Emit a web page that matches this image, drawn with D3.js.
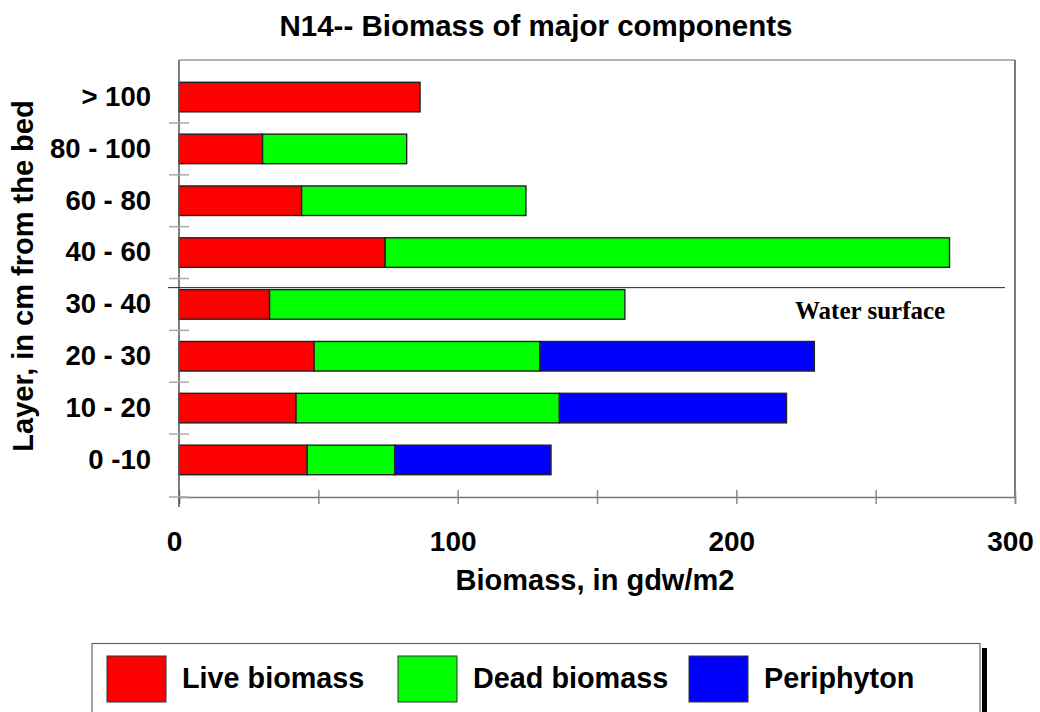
<!DOCTYPE html>
<html>
<head>
<meta charset="utf-8">
<script src="https://cdn.jsdelivr.net/npm/d3@7"></script>
<style>
  body { margin: 0; background: #fff; }
  text { font-family: "Liberation Sans", Arial, sans-serif; font-weight: bold; }
</style>
</head>
<body>
<svg id="chart" width="1040" height="712"></svg>
<script>
// layers, top to bottom
var layers = ["> 100", "80 - 100", "60 - 80", "40 - 60", "30 - 40", "20 - 30", "10 - 20", "0 -10"];
var live = [86.5, 30, 44, 74, 32.5, 48.5, 42, 46];
var dead = [0, 51.7, 80.5, 202.5, 127.5, 81, 94.5, 31.5];
var periphyton = [0, 0, 0, 0, 0, 98.5, 81.5, 56];
var seriesNames = ["Live biomass", "Dead biomass", "Periphyton"];
var seriesColors = ["#ff0000", "#00ff00", "#0000ff"];
var xTicks = [0, 50, 100, 150, 200, 250, 300];

var margin = {top: 60, left: 179, right: 25, bottom: 215};
var width = 1040 - margin.left - margin.right;   // 836
var height = 712 - margin.top - margin.bottom;   // 437

var svg = d3.select("#chart");

var rows = layers.map(function(l, i) {
    return {layer: l, live: live[i], dead: dead[i], periphyton: periphyton[i]};
});
var stack = d3.stack().keys(["live", "dead", "periphyton"]);
var stacked = stack(rows);

var x = d3.scaleLinear().domain([0, 300]).range([0, width]);
var y = d3.scaleBand().domain(layers).range([0, height]).padding(0.43);

var g = svg.append("g").attr("transform", `translate(${margin.left}, ${margin.top})`);

// frame: top and right
g.append("line").attr("x1", 0).attr("x2", width).attr("y1", 0).attr("y2", 0)
    .attr("stroke", "#999").attr("stroke-width", 1.5);
g.append("line").attr("x1", width).attr("x2", width).attr("y1", 0).attr("y2", height)
    .attr("stroke", "#222").attr("stroke-width", 1.2);

// bars
g.selectAll(".series")
    .data(stacked)
    .enter().append("g")
    .attr("fill", function(d, i) { return seriesColors[i]; })
    .selectAll("rect")
    .data(function(d) { return d; })
    .enter().append("rect")
    .attr("x", function(d) { return x(d[0]); })
    .attr("y", function(d) { return y(d.data.layer); })
    .attr("width", function(d) { return x(d[1]) - x(d[0]); })
    .attr("height", y.bandwidth())
    .attr("stroke", "#222")
    .attr("stroke-width", 1.4);

// x axis
var xAxis = d3.axisBottom(x)
    .tickValues(xTicks)
    .tickSize(7)
    .tickPadding(33)
    .tickFormat(function(d) { return d % 100 === 0 ? d : ""; });
var xg = g.append("g").attr("transform", `translate(0, ${height})`).call(xAxis);
xg.select(".domain").attr("stroke", "#777").attr("stroke-width", 1.5);
xg.selectAll(".tick line").attr("y1", -7).attr("stroke", "#888").attr("stroke-width", 1.5);
xg.selectAll(".tick text").attr("font-size", 28).attr("font-family", "Liberation Sans, Arial, sans-serif")
    .attr("font-weight", "bold").attr("fill", "#000").attr("dx", -5).attr("dy", 0).attr("y", 54);

// y axis
var yAxis = d3.axisLeft(y).tickSize(0).tickPadding(28);
var yg = g.append("g").call(yAxis);
yg.select(".domain").remove();
yg.selectAll(".tick text").attr("font-size", 27.5).attr("font-family", "Liberation Sans, Arial, sans-serif")
    .attr("font-weight", "bold").attr("fill", "#000");

g.append("line").attr("x1", 0).attr("x2", 0).attr("y1", 0).attr("y2", height + 10)
    .attr("stroke", "#555").attr("stroke-width", 1.5);

// boundary ticks between layers
var gap = (y.step() - y.bandwidth()) / 2;
var boundaries = layers.map(function(l) { return y(l) - gap; }).concat([height]);
g.selectAll(".ytick")
    .data(boundaries.slice(1))
    .enter().append("line")
    .attr("x1", -10).attr("x2", 10)
    .attr("y1", function(d) { return d; }).attr("y2", function(d) { return d; })
    .attr("stroke", "#aaa").attr("stroke-width", 1.5);

// water surface line, between 40-60 and 30-40
var waterY = y("30 - 40") - 2;
g.append("line").attr("x1", -11).attr("x2", width - 10)
    .attr("y1", waterY).attr("y2", waterY)
    .attr("stroke", "#222").attr("stroke-width", 1);
g.append("text")
    .attr("x", x(248)).attr("y", waterY + 31)
    .attr("text-anchor", "middle")
    .style("font-family", "'Liberation Serif', 'Times New Roman', serif")
    .attr("font-size", 25)
    .text("Water surface");

// titles
svg.append("text").attr("x", 536).attr("y", 36).attr("text-anchor", "middle")
    .attr("font-size", 29.5).text("N14-- Biomass of major components");
svg.append("text").attr("x", 595).attr("y", 590).attr("text-anchor", "middle")
    .attr("font-size", 29).text("Biomass, in gdw/m2");
svg.append("text").attr("transform", "translate(33, 276) rotate(-90)").attr("text-anchor", "middle")
    .attr("font-size", 29).text("Layer, in cm from the bed");

// legend
var legend = svg.append("g");
legend.append("rect").attr("x", 982).attr("y", 648).attr("width", 5).attr("height", 70).attr("fill", "#000");
legend.append("rect").attr("x", 92).attr("y", 643.5).attr("width", 888).attr("height", 80)
    .attr("fill", "#fff").attr("stroke", "#666").attr("stroke-width", 1.2);
var legendX = [107, 398, 689];
var items = legend.selectAll(".item")
    .data(seriesNames)
    .enter().append("g")
    .attr("transform", function(d, i) { return `translate(${legendX[i]}, 656)`; });
items.append("rect").attr("width", 59).attr("height", 46)
    .attr("fill", function(d, i) { return seriesColors[i]; })
    .attr("stroke", "#333").attr("stroke-width", 1);
items.append("text").attr("transform", "translate(75, 32) scale(0.96, 1)").attr("font-size", 30)
    .text(function(d) { return d; });
</script>
</body>
</html>
